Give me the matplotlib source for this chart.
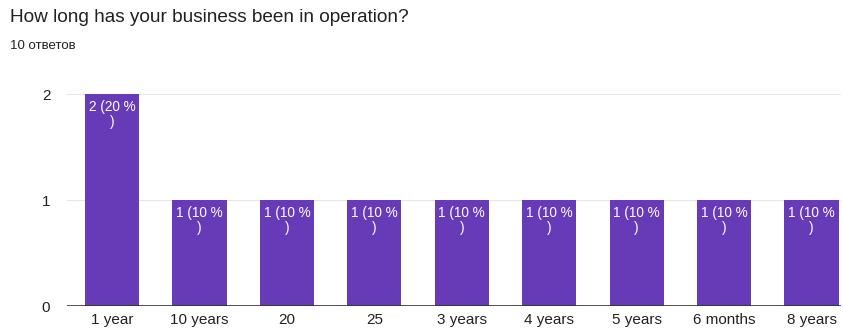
import matplotlib
matplotlib.use("Agg")
import matplotlib.pyplot as plt

categories = ["1 year", "10 years", "20", "25", "3 years", "4 years", "5 years", "6 months", "8 years"]
counts = [2, 1, 1, 1, 1, 1, 1, 1, 1]
total = 10
title = "How long has your business been in operation?"
subtitle = "10 ответов"
yticks = [0, 1, 2]

plt.rcParams['font.family'] = ['Liberation Sans', 'DejaVu Sans']

fig = plt.figure(figsize=(8.43, 3.31), dpi=100)
ax = fig.add_axes([67/843, 1-306/331, (841-67)/843, (306-94)/331])

x = list(range(len(categories)))
bw = 0.62
bars = ax.bar(x, counts, width=bw, color="#673ab7", zorder=3)
for xi, c in zip(x, counts):
    pct = round(c / total * 100)
    ax.annotate(f"{c} ({pct} %\n)", xy=(xi, c), xytext=(0, -4.5),
                textcoords="offset points", ha="center", va="top",
                multialignment="center",
                color="white", fontsize=9.8, linespacing=1.05, zorder=4)

ax.set_xlim(-0.515, 8.337)
ax.set_ylim(0, 2)
ax.set_yticks(yticks)
ax.set_xticks(x)
ax.set_xticklabels(categories)
for s in ax.spines.values():
    s.set_visible(False)
ax.axhline(0, color="#333333", lw=1.2, zorder=5)
for yv in yticks[1:]:
    ax.axhline(yv, color="#e6e6e6", lw=0.8, zorder=1)
ax.tick_params(axis="both", length=0, labelsize=11, colors="#222222")
ax.tick_params(axis="y", pad=12)
ax.tick_params(axis="x", pad=5)

fig.text(10/843, 1-18/331, title, fontsize=13.7, color="#202124", va="center", ha="left")
fig.text(10/843, 1-46/331, subtitle, fontsize=9.5, color="#202124", va="center", ha="left")

fig.savefig("out.png", dpi=100)
